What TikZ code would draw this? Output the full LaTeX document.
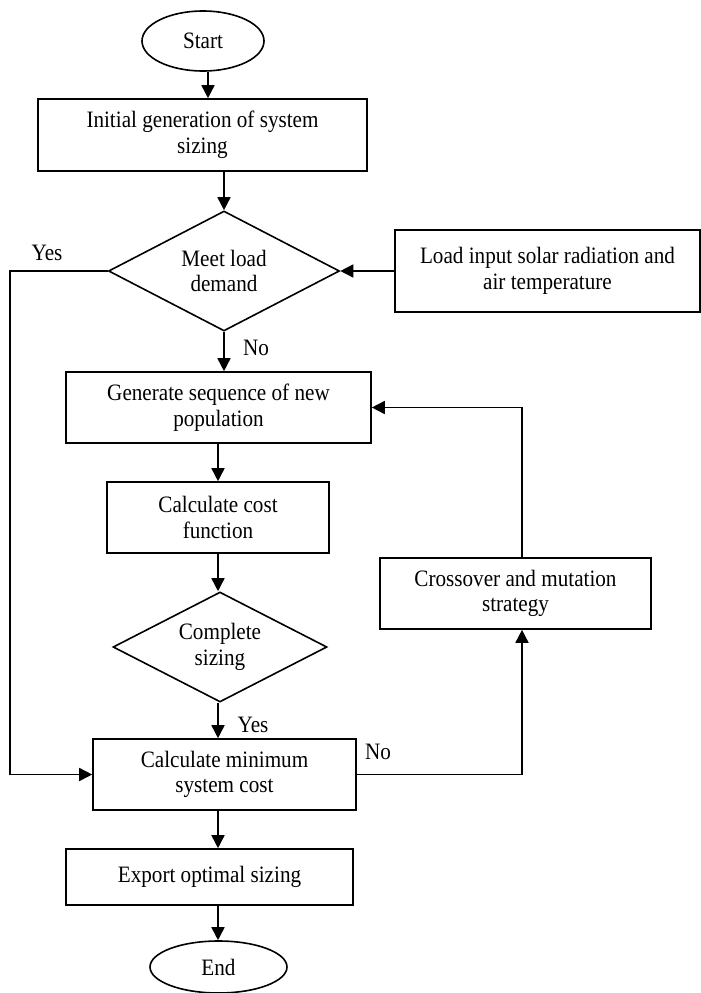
\documentclass[tikz,border=0pt]{standalone}
\usepackage{fontspec}
\setmainfont{Liberation Serif}[FakeStretch=0.9]
\usetikzlibrary{shapes.geometric,arrows.meta}
\begin{document}
\begin{tikzpicture}[x=1pt,y=-1pt,
  every node/.style={font=\fontsize{23.5}{25.5}\selectfont, inner sep=0pt, align=center},
  procbox/.style={draw, line width=1.6pt, rectangle},
  termin/.style={draw, line width=1.6pt, ellipse},
  decis/.style={draw, line width=1.6pt, diamond},
  lbl/.style={},
  arr/.style={line width=1.6pt, -{Triangle[length=13pt,width=13pt]}},
  ln/.style={line width=1.6pt}]
\useasboundingbox (0,0) rectangle (701,993);
\node[termin, minimum width=122, minimum height=60] (start) at (203,41) {Start};
\node[procbox, minimum width=329, minimum height=72] (init) at (202.5,135) {Initial generation of system\\sizing};
\node[decis, minimum width=231, minimum height=120, aspect=1.9] (d1) at (224,271) {Meet load\\demand};
\node[procbox, minimum width=305, minimum height=82] (load) at (547.5,271) {Load input solar radiation and\\air temperature};
\node[procbox, minimum width=305, minimum height=71] (gen) at (218.5,407.5) {Generate sequence of new\\population};
\node[procbox, minimum width=222, minimum height=71] (cost) at (218,517.5) {Calculate cost\\function};
\node[decis, minimum width=214, minimum height=110, aspect=1.9] (d2) at (220,647) {Complete\\sizing};
\node[procbox, minimum width=271, minimum height=71] (cross) at (515.5,593.5) {Crossover and mutation\\strategy};
\node[procbox, minimum width=263, minimum height=71] (cmin) at (224.5,774.5) {Calculate minimum\\system cost};
\node[procbox, minimum width=287, minimum height=56] (export) at (209.5,877) {Export optimal sizing};
\node[termin, minimum width=137, minimum height=52] (end) at (218.5,967) {End};
\node[lbl] (yes1) at (47,253) {Yes};
\node[lbl] (no1) at (256,348) {No};
\node[lbl] (yes2) at (253,725) {Yes};
\node[lbl] (no2) at (378,752) {No};
\coordinate (lftx) at (10,0);
\coordinate (crx) at (522,0);
\coordinate (sx) at (208,0);
\coordinate (cx) at (218,0);
\draw[arr] (start.south -| sx) -- (init.north -| sx);
\draw[arr] (d1.north |- init.south) -- (d1.north);
\draw[arr] (load.west) -- (d1.east);
\draw[arr] (d1.south) -- (d1.south |- gen.north);
\draw[arr] (gen.south -| cx) -- (cost.north -| cx);
\draw[arr] (cost.south -| cx) -- (d2.north -| cx);
\draw[arr] (d2.south -| cx) -- (cmin.north -| cx);
\draw[arr] (cmin.south -| cx) -- (export.north -| cx);
\draw[arr] (export.south -| cx) -- (end.north -| cx);
\draw[arr] (d1.west) -- (d1.west -| lftx) |- (cmin.west);
\draw[arr] (cmin.east) -- (cmin.east -| crx) -- (cross.south -| crx);
\draw[arr] (cross.north -| crx) |- (gen.east);
\end{tikzpicture}
\end{document}
